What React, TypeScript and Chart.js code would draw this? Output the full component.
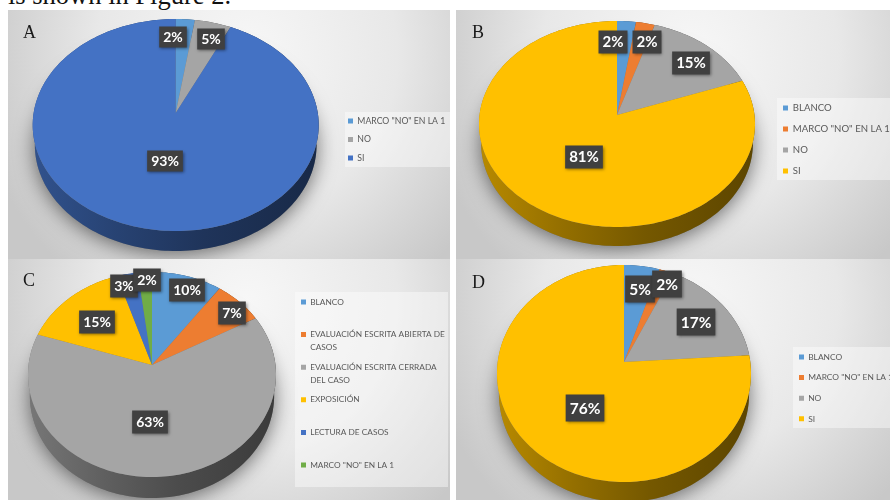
import React, { useEffect, useRef } from "react";
import { Chart, registerables } from "chart.js";

Chart.register(...registerables);

const labelsA = ['MARCO "NO" EN LA 1', "NO", "SI"];
const valuesA = [2.4, 4.6, 93];
const colorsA = ["#5B9BD5", "#A5A5A5", "#4472C4"];

const labelsB = ["BLANCO", 'MARCO "NO" EN LA 1', "NO", "SI"];
const valuesB = [2.4, 2.4, 14.6, 80.6];
const colorsB = ["#5B9BD5", "#ED7D31", "#A5A5A5", "#FFC000"];

const labelsC = [
  "BLANCO",
  "EVALUACIÓN ESCRITA ABIERTA DE\nCASOS",
  "EVALUACIÓN ESCRITA CERRADA\nDEL CASO",
  "EXPOSICIÓN",
  "LECTURA DE CASOS",
  'MARCO "NO" EN LA 1',
];
const valuesC = [10, 7, 63, 15, 3, 2];
const colorsC = ["#5B9BD5", "#ED7D31", "#A5A5A5", "#FFC000", "#4472C4", "#70AD47"];

const labelsD = ["BLANCO", 'MARCO "NO" EN LA 1', "NO", "SI"];
const valuesD = [5, 2, 17, 76];
const colorsD = ["#5B9BD5", "#ED7D31", "#A5A5A5", "#FFC000"];

type Panel = {
  letter: string; letterX: number; letterY: number;
  labels: string[]; values: number[]; colors: string[];
  box: number[]; left: number; right: number; top: number; bottom: number; apexX: number; apexY: number; depth: number;
  tags: number[][]; tagFont: number; tagHeight: number; legendFont: number; legendX: number; legendY: number; legendGap: number; legendLine: number;
  backdrop: number[]; gradient: string;
};

const panelGradient = "radial-gradient(ellipse 62% 115% at 54% 18%, #f7f7f7 0%, #e8e8e8 55%, #c8c8c8 100%)";

const panels: Panel[] = [
  {
    letter: "A", letterX: 23, letterY: 38, labels: labelsA, values: valuesA, colors: colorsA,
    box: [8, 10, 442, 249], left: 32, right: 318, top: 19, bottom: 231, apexX: 175.7, apexY: 113, depth: 20,
    tags: [[173, 37], [211, 39], [165, 161]], tagFont: 14, tagHeight: 21, legendFont: 8.7, legendX: 348, legendY: 121, legendGap: 18.5, legendLine: 10,
    backdrop: [345, 112, 105, 55], gradient: panelGradient,
  },
  {
    letter: "B", letterX: 472, letterY: 38, labels: labelsB, values: valuesB, colors: colorsB,
    box: [456, 10, 434, 249], left: 479, right: 755, top: 21, bottom: 227, apexX: 617, apexY: 115, depth: 19,
    tags: [[613, 42], [647, 42], [691, 63], [584, 157]], tagFont: 15, tagHeight: 23, legendFont: 9.6, legendX: 783, legendY: 108, legendGap: 21, legendLine: 11,
    backdrop: [777, 98, 113, 82], gradient: panelGradient,
  },
  {
    letter: "C", letterX: 23, letterY: 286, labels: labelsC, values: valuesC, colors: colorsC,
    box: [8, 259, 442, 241], left: 27, right: 275, top: 272, bottom: 477, apexX: 152, apexY: 365, depth: 21,
    tags: [[187, 290], [232, 313], [150, 422], [97, 322], [124, 286], [147, 280]], tagFont: 14, tagHeight: 23, legendFont: 8.3, legendX: 301, legendY: 302, legendGap: 32.6, legendLine: 13,
    backdrop: [295, 292, 153, 195], gradient: panelGradient,
  },
  {
    letter: "D", letterX: 472, letterY: 288, labels: labelsD, values: valuesD, colors: colorsD,
    box: [456, 259, 434, 241], left: 498, right: 752, top: 265, bottom: 482, apexX: 624, apexY: 362, depth: 20,
    tags: [[640, 289], [667, 284], [696, 322], [585, 408]], tagFont: 15.5, tagHeight: 27, legendFont: 8.4, legendX: 799, legendY: 357, legendGap: 20.6, legendLine: 11,
    backdrop: [793, 347, 97, 81], gradient: panelGradient,
  },
];

function shade(hex: string, k: number) {
  const n = parseInt(hex.slice(1), 16);
  return `rgb(${((n >> 16) & 255) * k},${((n >> 8) & 255) * k},${(n & 255) * k})`;
}

function PieChart({ panel }: { panel: Panel }) {
  const ref = useRef<HTMLCanvasElement | null>(null);
  useEffect(() => {
    const [ox, oy, w, h] = panel.box;
    const T = panel.apexY - panel.top;
    const Bt = panel.bottom - panel.apexY;
    const q = (Bt - T) / (Bt + T);
    const B = T * (1 + q);
    const rx = (panel.right - panel.left) / 2;
    const A = rx * Math.sqrt(1 - q * q);
    const ax = panel.apexX - ox;
    const ay = panel.apexY - oy;
    const wraps = panel.labels.some((l) => l.includes("\n"));
    const legendPad = wraps ? panel.legendGap - 2 * panel.legendLine : panel.legendGap - panel.legendFont;
    const project = (theta: number, extra = 0) => {
      const u = Math.sin(theta);
      const v = -Math.cos(theta);
      const d = 1 - q * v;
      const shrink = extra ? 0.985 : 1;
      return [ax + (A * u * shrink) / d, ay + (B * v) / d + extra];
    };
    const perspective = {
      id: "perspective",
      afterLayout(chart: any) {
        const lg = chart.legend;
        lg.left = panel.legendX - ox - legendPad;
        lg.right = w + 200;
        lg.top = panel.legendY - oy - panel.legendFont / 2 - legendPad;
        lg.bottom = h + 200;
      },
      beforeDraw(chart: any) {
        const c = chart.ctx;
        const [bx, by, bw, bh] = panel.backdrop;
        c.save();
        c.fillStyle = "rgba(255,255,255,0.42)";
        c.fillRect(bx - ox, by - oy, bw, bh);
        c.restore();
      },
      beforeDatasetsDraw(chart: any) {
        const c = chart.ctx;
        const arcs = chart.getDatasetMeta(0).data;
        c.save();
        c.beginPath();
        for (let t = 0; t <= 360; t += 2) {
          const [x, y] = project((t * Math.PI) / 180, panel.depth);
          if (t === 0) c.moveTo(x, y);
          else c.lineTo(x, y);
        }
        c.closePath();
        c.shadowColor = "rgba(0,0,0,0.55)";
        c.shadowBlur = 20;
        c.shadowOffsetY = 3;
        c.fillStyle = "#777";
        c.fill();
        c.restore();
        arcs.forEach((arc: any, i: number) => {
          const s = arc.startAngle + Math.PI / 2;
          const e = arc.endAngle + Math.PI / 2;
          const n = Math.max(2, Math.ceil((e - s) * 40));
          const g = c.createLinearGradient(ax - rx, 0, ax + rx, 0);
          const base = panel.colors[i];
          g.addColorStop(0, shade(base, 0.72));
          g.addColorStop(0.3, shade(base, 0.58));
          g.addColorStop(0.6, shade(base, 0.46));
          g.addColorStop(1, shade(base, 0.36));
          c.beginPath();
          for (let k = 0; k <= n; k++) {
            const [x, y] = project(s + ((e - s) * k) / n);
            if (k === 0) c.moveTo(x, y);
            else c.lineTo(x, y);
          }
          for (let k = n; k >= 0; k--) {
            const [x, y] = project(s + ((e - s) * k) / n, panel.depth);
            c.lineTo(x, y);
          }
          c.closePath();
          c.fillStyle = g;
          c.fill();
        });
        arcs.forEach((arc: any, i: number) => {
          const s = arc.startAngle + Math.PI / 2;
          const e = arc.endAngle + Math.PI / 2;
          const n = Math.max(2, Math.ceil((e - s) * 40));
          c.beginPath();
          c.moveTo(ax, ay);
          for (let k = 0; k <= n; k++) {
            const [x, y] = project(s + ((e - s) * k) / n);
            c.lineTo(x, y);
          }
          c.closePath();
          c.fillStyle = panel.colors[i];
          c.fill();
        });
        return false;
      },
      afterDraw(chart: any) {
        const c = chart.ctx;
        c.save();
        c.font = `bold ${panel.tagFont}px Lato`;
        c.textAlign = "center";
        c.textBaseline = "middle";
        panel.tags.forEach(([tx, ty], i) => {
          const text = `${Math.round(panel.values[i])}%`;
          const bw = c.measureText(text).width + 8;
          const bh = panel.tagHeight;
          c.save();
          c.shadowColor = "rgba(0,0,0,0.45)";
          c.shadowBlur = 3;
          c.shadowOffsetX = 1;
          c.shadowOffsetY = 1;
          c.fillStyle = "#404040";
          c.fillRect(tx - ox - bw / 2, ty - oy - bh / 2, bw, bh);
          c.restore();
          c.fillStyle = "#ffffff";
          c.fillText(text, tx - ox, ty - oy + 0.5);
        });
        c.fillStyle = "#1a1a1a";
        c.font = "18px 'Liberation Serif'";
        c.textAlign = "left";
        c.textBaseline = "alphabetic";
        c.fillText(panel.letter, panel.letterX - ox, panel.letterY - oy);
        c.restore();
      },
    };
    const chart = new Chart(ref.current as HTMLCanvasElement, {
      type: "pie",
      data: {
        labels: panel.labels,
        datasets: [{ data: panel.values, backgroundColor: panel.colors, borderWidth: 0 }],
      },
      options: {
        animation: false,
        responsive: false,
        devicePixelRatio: 1,
        events: [],
        plugins: {
          tooltip: { enabled: false },
          legend: {
            position: "right",
            align: "start",
            labels: {
              boxWidth: 5,
              boxHeight: 5,
              color: "#595959",
              font: { family: "Lato", size: panel.legendFont, lineHeight: `${panel.legendLine}px` },
              padding: legendPad,
              generateLabels(c: any) {
                const base = (Chart as any).overrides.doughnut.plugins.legend.labels.generateLabels(c);
                return base.map((it: any) => {
                  if (!wraps) return it;
                  const lines = String(it.text).split("\n");
                  if (lines.length < 2) lines.push("");
                  return { ...it, text: lines };
                });
              },
            },
          },
        },
      },
      plugins: [perspective],
    } as any);
    return () => chart.destroy();
  }, [panel]);
  const [x, y, w, h] = panel.box;
  return (
    <div style={{ position: "absolute", left: x, top: y, width: w, height: h, overflow: "hidden", background: panel.gradient }}>
      <canvas ref={ref} width={w} height={h} style={{ display: "block", width: w, height: h }} />
    </div>
  );
}

export default function App() {
  return (
    <div style={{ position: "fixed", left: 0, top: 0, width: 890, height: 500, overflow: "hidden", background: "#fff", filter: "blur(0.75px)" }}>
      <div style={{ position: "absolute", left: 8, top: -20, fontFamily: "'Liberation Serif'", fontSize: 26.5, lineHeight: "30px", color: "#111", whiteSpace: "nowrap" }}>
        is shown in Figure 2.
      </div>
      {panels.map((p) => (
        <PieChart key={p.letter} panel={p} />
      ))}
    </div>
  );
}
